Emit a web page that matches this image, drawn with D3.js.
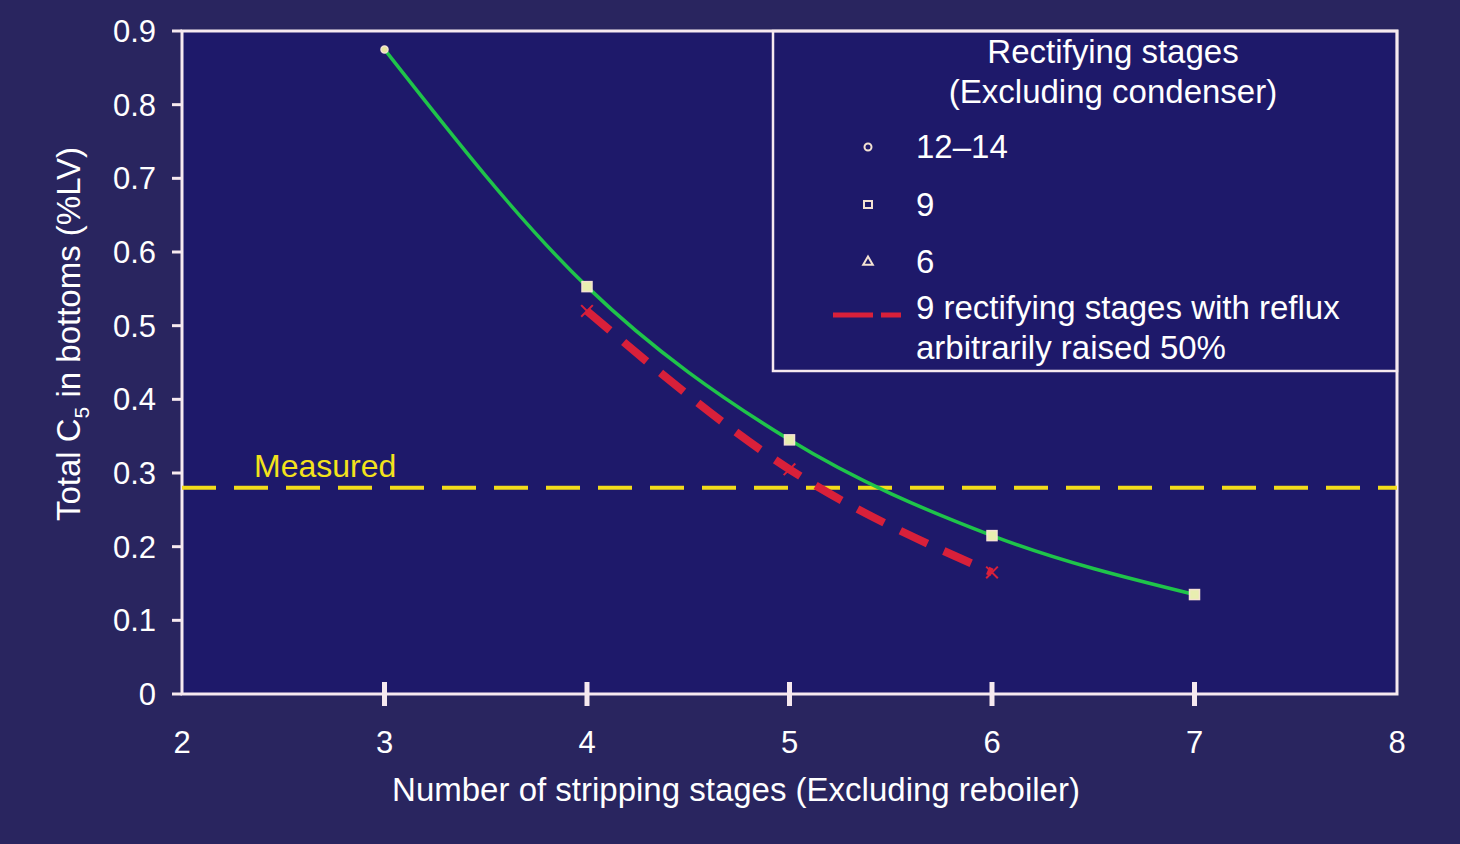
<!DOCTYPE html>
<html><head><meta charset="utf-8">
<script src="https://cdn.jsdelivr.net/npm/d3@7"></script>
<style>
body{margin:0;background:#28245f;}
text{font-family:"Liberation Sans",Arial,sans-serif;fill:#fff;}
</style></head>
<body><svg id="chart" width="1460" height="844"></svg>
<script>
const xTicks = [2, 3, 4, 5, 6, 7, 8];
const yTicks = [0, 0.1, 0.2, 0.3, 0.4, 0.5, 0.6, 0.7, 0.8, 0.9];
const baseX = [3, 4, 5, 6, 7];
const baseY = [0.875, 0.553, 0.345, 0.215, 0.135];
const refluxX = [4, 5, 6];
const refluxY = [0.52, 0.305, 0.165];
const measured = 0.28;
const legendLabels = ["12–14", "9", "6"];

const svg = d3.select("#chart");
const x = d3.scaleLinear().domain([2, 8]).range([182, 1397]);
const y = d3.scaleLinear().domain([0, 0.9]).range([694, 31]);
const frame = "#f6e9ef";

svg.append("rect").attr("x", 0).attr("y", 0).attr("width", 1460).attr("height", 844).attr("fill", "#29255f");
svg.append("rect").attr("x", x(2)).attr("y", y(0.9)).attr("width", x(8) - x(2)).attr("height", y(0) - y(0.9))
  .attr("fill", "#1e196a").attr("stroke", frame).attr("stroke-width", 3);

yTicks.forEach(v => {
  svg.append("line").attr("x1", x(2) - 10).attr("x2", x(2)).attr("y1", y(v)).attr("y2", y(v))
    .attr("stroke", frame).attr("stroke-width", 3);
  svg.append("text").attr("x", x(2) - 26).attr("y", y(v) + 11).attr("text-anchor", "end")
    .style("font-size", "31px").text(v === 0 ? "0" : d3.format(".1f")(v));
});
xTicks.forEach(v => {
  if (v > 2 && v < 8) {
    svg.append("line").attr("x1", x(v)).attr("x2", x(v)).attr("y1", y(0) - 12).attr("y2", y(0) + 12)
      .attr("stroke", frame).attr("stroke-width", 5);
  }
  svg.append("text").attr("x", x(v)).attr("y", 753).attr("text-anchor", "middle")
    .style("font-size", "31px").text(v);
});

svg.append("text").attr("x", 736).attr("y", 801).attr("text-anchor", "middle")
  .style("font-size", "33px").text("Number of stripping stages (Excluding reboiler)");
const yl = svg.append("text").attr("transform", "translate(80,334) rotate(-90)").attr("text-anchor", "middle")
  .style("font-size", "33px");
yl.append("tspan").text("Total C");
yl.append("tspan").attr("dy", 9).style("font-size", "21px").text("5");
yl.append("tspan").attr("dy", -9).text(" in bottoms (%LV)");

svg.append("rect").attr("x", 773).attr("y", y(0.9)).attr("width", x(8) - 773).attr("height", 371 - y(0.9))
  .attr("fill", "none").attr("stroke", frame).attr("stroke-width", 2.5);
svg.append("text").attr("x", 1113).attr("y", 63).attr("text-anchor", "middle").style("font-size", "33px").text("Rectifying stages");
svg.append("text").attr("x", 1113).attr("y", 103).attr("text-anchor", "middle").style("font-size", "33px").text("(Excluding condenser)");
const legY = [147, 205, 262];
const mStroke = "#f4e2d2";
svg.append("circle").attr("cx", 868).attr("cy", legY[0]).attr("r", 3.5).attr("fill", "none").attr("stroke", mStroke).attr("stroke-width", 2);
svg.append("rect").attr("x", 864).attr("y", legY[1] - 4).attr("width", 8).attr("height", 7).attr("fill", "none").attr("stroke", mStroke).attr("stroke-width", 2);
svg.append("path").attr("d", d3.symbol(d3.symbolTriangle, 40)()).attr("transform", `translate(868,${legY[2]})`)
  .attr("fill", "none").attr("stroke", mStroke).attr("stroke-width", 2);
legendLabels.forEach((t, i) => svg.append("text").attr("x", 916).attr("y", legY[i] + 11).style("font-size", "33px").text(t));
svg.append("line").attr("x1", 833).attr("x2", 905).attr("y1", 315).attr("y2", 315)
  .attr("stroke", "#d8203a").attr("stroke-width", 5).attr("stroke-dasharray", "40,8,20,8");
svg.append("text").attr("x", 916).attr("y", 319).style("font-size", "33px").text("9 rectifying stages with reflux");
svg.append("text").attr("x", 916).attr("y", 359).style("font-size", "33px").text("arbitrarily raised 50%");

svg.append("line").attr("x1", x(2)).attr("x2", x(8)).attr("y1", y(measured)).attr("y2", y(measured))
  .attr("stroke", "#f3dc1a").attr("stroke-width", 4).attr("stroke-dasharray", "34,18");
svg.append("text").attr("x", 254).attr("y", 477).style("font-size", "32px").style("fill", "#f3e21c").text("Measured");

const basePts = baseX.map((v, i) => [x(v), y(baseY[i])]);
svg.append("path").attr("d", d3.line().curve(d3.curveMonotoneX)(basePts))
  .attr("fill", "none").attr("stroke", "#1fc44a").attr("stroke-width", 3.5);
const refPts = refluxX.map((v, i) => [x(v), y(refluxY[i])]);
svg.append("path").attr("d", d3.line().curve(d3.curveMonotoneX)(refPts))
  .attr("fill", "none").attr("stroke", "#d8203a").attr("stroke-width", 8).attr("stroke-dasharray", "30,18");
refPts.forEach(p => svg.append("path").attr("d", d3.symbol(d3.symbolTimes, 90)()).attr("transform", `translate(${p})`)
  .attr("fill", "#d8203a").attr("stroke", "#d8203a").attr("stroke-width", 2));

basePts.forEach((p, i) => {
  if (i === 0) {
    svg.append("circle").attr("cx", p[0]).attr("cy", p[1]).attr("r", 3.5).attr("fill", "#e8e6a0").attr("stroke", mStroke).attr("stroke-width", 1.5);
  } else {
    svg.append("rect").attr("x", p[0] - 5).attr("y", p[1] - 5).attr("width", 10).attr("height", 10)
      .attr("fill", "#e8eeb0").attr("stroke", mStroke).attr("stroke-width", 1.5);
  }
});
</script></body></html>
